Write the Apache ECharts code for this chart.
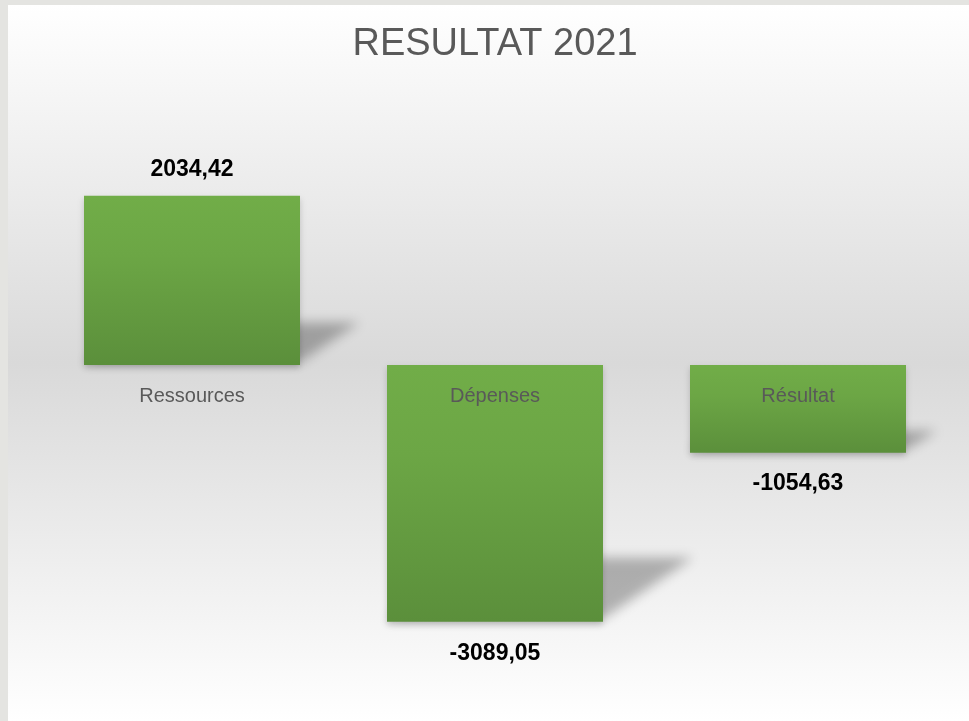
<!DOCTYPE html>
<html>
<head>
<meta charset="UTF-8">
<title>RESULTAT 2021</title>
<script type="text/javascript" src="https://cdn.jsdelivr.net/npm/echarts@6/dist/echarts.min.js"></script>
<style>
  body { margin: 0; background: #e4e4e1; }
  #box {
    position: absolute; left: 8px; top: 5px; width: 961px; height: 716px;
    background: linear-gradient(to bottom, #ffffff 0%, #d9d9d9 50%, #ffffff 100%);
  }
</style>
</head>
<body>
	<div id="box"></div>

	<script type="text/javascript">
		// donnees du graphique
		var categories = ['Ressources', 'Dépenses', 'Résultat'];
		var values = [2034.42, -3089.05, -1054.63];
		var yMin = -3500;
		var yMax = 2500;

		var myChart = echarts.init(document.getElementById('box'));

		var barData = values.map(function (v) {
			return {
				value: v,
				label: v >= 0 ? { position: 'top', distance: 15 } : { position: 'bottom', distance: 20 }
			};
		});
		var pointData = values.map(function (v, i) { return [i, v]; });

		// ombre portee en perspective derriere chaque barre
		// (forme dessinee hors cadre, seule son ombre floue revient a sa place)
		var OFF = 3000;
		function renderShadow(params, api) {
			var i = api.value(0), v = api.value(1);
			var p0 = api.coord([i, 0]);
			var p1 = api.coord([i, v]);
			var bw = 216;
			var L = p0[0] - bw / 2, R = p0[0] + bw / 2;
			var bottom = Math.max(p0[1], p1[1]);
			var h = Math.abs(p1[1] - p0[1]);
			var dx = h * 0.35, dy = h * 0.25;
			return {
				type: 'polygon',
				shape: { points: [
					[L - OFF, bottom - 3], [R - OFF, bottom - 3],
					[R + dx - OFF, bottom - dy], [L + dx - OFF, bottom - dy]
				] },
				style: {
					fill: '#000',
					shadowBlur: 12,
					shadowOffsetX: OFF,
					shadowColor: 'rgba(0,0,0,0.28)'
				}
			};
		}

		// noms des categories poses sur la ligne du zero
		function renderCategory(params, api) {
			var i = api.value(0);
			var p = api.coord([i, 0]);
			return {
				type: 'text',
				x: p[0],
				y: p[1] + 22,
				style: {
					text: categories[i],
					align: 'center',
					verticalAlign: 'top',
					fontFamily: 'Liberation Sans',
					fontSize: 20,
					fill: '#595959'
				}
			};
		}

		myChart.setOption({
			animation: false,
			title: {
				text: 'RESULTAT 2021',
				left: 482,
				top: 16,
				textAlign: 'center',
				textStyle: {
					fontFamily: 'Liberation Sans',
					fontSize: 38,
					fontWeight: 'normal',
					color: '#595959'
				}
			},
			grid: { left: 32.5, top: 152, width: 909, height: 499 },
			xAxis: {
				type: 'category',
				data: categories,
				axisLine: { show: false },
				axisTick: { show: false },
				axisLabel: { show: false }
			},
			yAxis: {
				type: 'value',
				min: yMin,
				max: yMax,
				show: false,
				splitLine: { show: false }
			},
			series: [
				{
					type: 'custom',
					z: 1,
					silent: true,
					renderItem: renderShadow,
					data: pointData
				},
				{
					type: 'bar',
					z: 2,
					barWidth: 216,
					data: barData,
					itemStyle: {
						color: new echarts.graphic.LinearGradient(0, 0, 0, 1, [
							{ offset: 0, color: '#71ad48' },
							{ offset: 0.35, color: '#6ca645' },
							{ offset: 1, color: '#5b8f3b' }
						]),
						shadowBlur: 6,
						shadowOffsetY: 3,
						shadowColor: 'rgba(0,0,0,0.18)'
					},
					label: {
						show: true,
						fontFamily: 'Liberation Sans',
						fontSize: 23,
						fontWeight: 'bold',
						color: '#000000',
						formatter: function (p) {
							return p.value.toFixed(2).replace('.', ',');
						}
					}
				},
				{
					type: 'custom',
					z: 3,
					silent: true,
					renderItem: renderCategory,
					data: pointData
				}
			]
		});
	</script>

</body>
</html>
